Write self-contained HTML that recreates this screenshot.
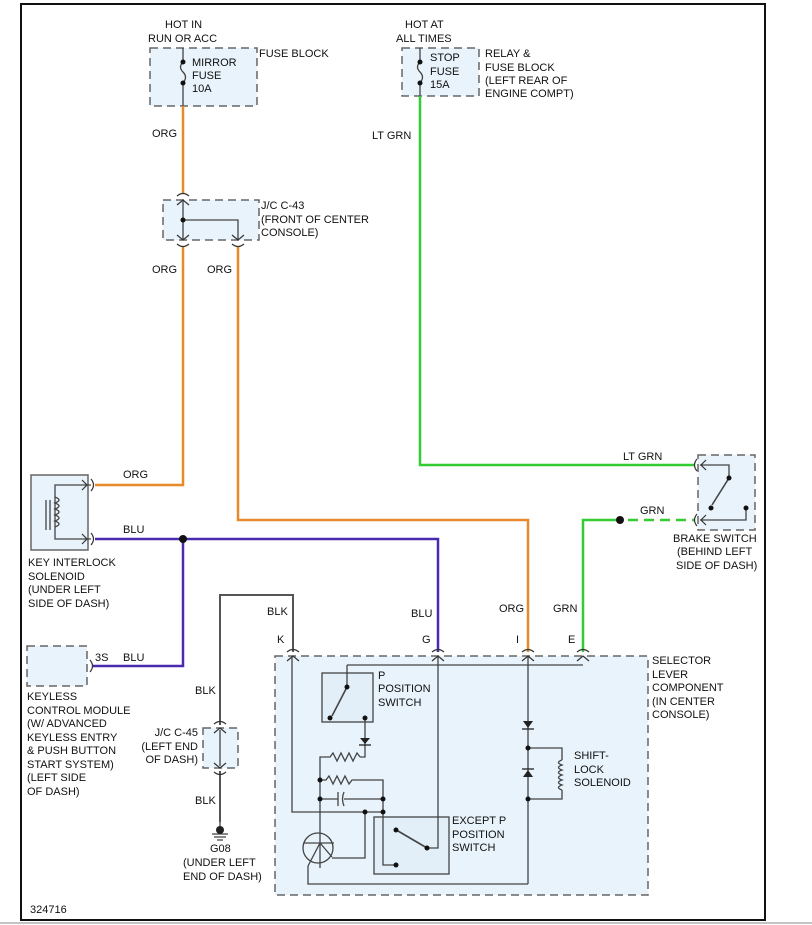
<!DOCTYPE html>
<html><head><meta charset="utf-8"><style>
body{margin:0;background:#fff}
svg{display:block}
text{font-family:"Liberation Sans",sans-serif;font-size:11px;fill:#111}
</style></head><body>
<svg width="812" height="925" viewBox="0 0 812 925">
<rect x="21" y="4" width="744" height="916" fill="none" stroke="#111" stroke-width="2"/>
<line x1="0" y1="923" x2="812" y2="923" stroke="#888" stroke-width="1"/>
<g fill="#e8f3fb" stroke="#666" stroke-width="1.5" stroke-dasharray="8,5">
<rect x="150" y="48" width="107" height="58"/>
<rect x="402" y="48" width="77" height="48"/>
<rect x="163" y="200" width="96" height="40"/>
<rect x="27" y="646" width="60" height="40"/>
<rect x="203" y="728" width="35" height="40"/>
<rect x="698" y="455" width="57" height="75"/>
<rect x="275" y="656" width="373" height="239"/>
</g>
<rect x="31" y="475" width="57" height="75" fill="#e8f3fb" stroke="#666" stroke-width="1.5"/>
<g fill="none" stroke="#444" stroke-width="1.3">
<rect x="322" y="673" width="51" height="49" fill="#e2eef8"/>
<rect x="374" y="817" width="75" height="57" fill="#e2eef8"/>
</g>
<!-- wires -->
<g fill="none" stroke-width="2.5">
<path d="M183 106V193M183 246V485H95" stroke="#e8892a"/>
<path d="M238 246V520H528V652" stroke="#e8892a"/>
<path d="M420 96V465H694" stroke="#33cc33"/>
<path d="M583 652V520H612" stroke="#33cc33"/>
<path d="M612 520H694" stroke="#33cc33" stroke-dasharray="10,6"/>
<path d="M95 539H438V652M183 539V666H92" stroke="#4a2ab0"/>
<path d="M293 652V595H220V725M220 771V822" stroke="#555" stroke-width="2"/>
</g>
<!-- thin lines -->
<g fill="none" stroke="#444" stroke-width="1.3">
<path d="M183 48V62M183 83V106"/>
<path d="M183 62q-5 5 0 10q5 5 0 11"/>
<path d="M420 48V62M420 83V96"/>
<path d="M420 62q-5 5 0 10q5 5 0 11"/>
<path d="M183 200V240M183 220H238V240"/>
<path d="M220 730V766"/>
<path d="M91 485H55V539H91"/>
<path d="M55 497q8 3 0 6q8 3 0 6q8 3 0 6q8 3 0 6q8 3 0 6"/>
<path d="M46 500V530M50 500V530"/>
<path d="M700 465H729V478M746 508V520H700"/>
<path d="M729 478L712 505" stroke-width="1.6"/>
<!-- selector internals -->
<path d="M292 656V812H383M347 665H583M347 665V687"/>
<path d="M347 687L332 716" stroke-width="1.6"/>
<path d="M365 718V757H360"/>
<path d="M360 757l-3-4l-4 8l-4-8l-4 8l-4-8l-4 8l-4-8l-3 4H320V868"/>
<path d="M320 780H326l3-4l4 8l4-8l4 8l4-8l4 8l3-4H383V812"/>
<path d="M320 799H338M344 799H383"/>
<path d="M338 792V806"/>
<path d="M344 792q-3 7 0 14"/>
<path d="M365 812V858H332"/>
<circle cx="318" cy="848" r="15"/>
<path d="M304 843H334M320 843L308 866M320 843L332 857"/>
<path d="M308 866V884H528"/>
<path d="M438 656V848H427"/>
<path d="M427 848L398 831" stroke-width="1.6"/>
<path d="M396 865H383V812"/>
<path d="M528 656V884"/>
<path d="M528 748H562V760M562 790V799H528"/>
<path d="M562 760q-7 2.5 0 5q-7 2.5 0 5q-7 2.5 0 5q-7 2.5 0 5q-7 2.5 0 5q-7 2.5 0 5"/>
<path d="M220 822V830M212 834H228M214 837H226M217 840H223"/>
</g>
<!-- diodes -->
<g fill="#222">
<path d="M360 738h10l-5 6z"/><path d="M359 745h12" stroke="#222" stroke-width="1.3"/>
<path d="M523 721h10l-5 7z"/><path d="M522 729h12" stroke="#222" stroke-width="1.3"/>
<path d="M523 777h10l-5-7z"/><path d="M522 769h12" stroke="#222" stroke-width="1.3"/>
<circle cx="220" cy="830" r="4"/>
</g>
<!-- dots -->
<g fill="#111">
<circle cx="183" cy="62" r="2.5"/><circle cx="183" cy="83" r="2.5"/>
<circle cx="420" cy="62" r="2.5"/><circle cx="420" cy="83" r="2.5"/>
<circle cx="183" cy="220" r="2.5"/>
<circle cx="183" cy="539" r="4"/><circle cx="620" cy="520" r="4"/>
<circle cx="729" cy="478" r="2.5"/><circle cx="711" cy="508" r="2.5"/><circle cx="746" cy="508" r="2.5"/>
<circle cx="347" cy="687" r="2.5"/><circle cx="330" cy="718" r="2.5"/><circle cx="365" cy="718" r="2.5"/>
<circle cx="320" cy="780" r="2.5"/><circle cx="320" cy="799" r="2.5"/><circle cx="383" cy="799" r="2.5"/>
<circle cx="365" cy="812" r="2.5"/><circle cx="383" cy="812" r="2.5"/>
<circle cx="396" cy="830" r="2.5"/><circle cx="427" cy="848" r="2.5"/><circle cx="396" cy="865" r="2.5"/>
<circle cx="528" cy="748" r="2.5"/><circle cx="528" cy="799" r="2.5"/>
</g>
<!-- connectors -->
<g fill="none" stroke="#333" stroke-width="1.2">
<path d="M177 196q6-5 12 0M177 205l6-5l6 5"/>
<path d="M177 244q6 5 12 0M177 235l6 5l6-5"/>
<path d="M232 244q6 5 12 0M232 235l6 5l6-5"/>
<path d="M91 479q5 6 0 12M82 480l5 5l-5 5"/>
<path d="M91 533q5 6 0 12M82 534l5 5l-5 5"/>
<path d="M90 660q5 6 0 12"/>
<path d="M697 459q-5 6 0 12M706 460l-5 5l5 5"/>
<path d="M697 514q-5 6 0 12M706 515l-5 5l5 5"/>
<path d="M214 724q6-5 12 0M214 733l6-5l6 5"/>
<path d="M214 772q6 5 12 0M214 763l6 5l6-5"/>
<path d="M287 652q6-5 12 0M287 661l6-5l6 5"/>
<path d="M432 652q6-5 12 0M432 661l6-5l6 5"/>
<path d="M522 652q6-5 12 0M522 661l6-5l6 5"/>
<path d="M577 652q6-5 12 0M577 661l6-5l6 5"/>
</g>
<!-- labels -->
<text x="165" y="28">HOT IN</text><text x="148" y="42">RUN OR ACC</text>
<text x="259" y="57">FUSE BLOCK</text>
<text x="192" y="66">MIRROR</text><text x="192" y="79">FUSE</text><text x="192" y="92">10A</text>
<text x="405" y="28">HOT AT</text><text x="396" y="42">ALL TIMES</text>
<text x="430" y="61">STOP</text><text x="430" y="75">FUSE</text><text x="430" y="88">15A</text>
<text x="485" y="57">RELAY &amp;</text><text x="485" y="71">FUSE BLOCK</text><text x="485" y="84">(LEFT REAR OF</text><text x="485" y="97">ENGINE COMPT)</text>
<text x="152" y="137">ORG</text><text x="372" y="139">LT GRN</text>
<text x="261" y="209">J/C C-43</text><text x="261" y="223">(FRONT OF CENTER</text><text x="261" y="236">CONSOLE)</text>
<text x="152" y="273">ORG</text><text x="207" y="273">ORG</text>
<text x="123" y="478">ORG</text><text x="123" y="533">BLU</text>
<text x="28" y="566">KEY INTERLOCK</text><text x="28" y="580">SOLENOID</text><text x="28" y="593">(UNDER LEFT</text><text x="28" y="607">SIDE OF DASH)</text>
<text x="95" y="661">3S</text><text x="123" y="661">BLU</text>
<text x="27" y="700">KEYLESS</text><text x="27" y="714">CONTROL MODULE</text><text x="27" y="727">(W/ ADVANCED</text><text x="27" y="741">KEYLESS ENTRY</text><text x="27" y="754">&amp; PUSH BUTTON</text><text x="27" y="768">START SYSTEM)</text><text x="27" y="781">(LEFT SIDE</text><text x="27" y="795">OF DASH)</text>
<text x="195" y="694">BLK</text><text x="195" y="804">BLK</text>
<text x="198" y="736" text-anchor="end">J/C C-45</text><text x="198" y="750" text-anchor="end">(LEFT END</text><text x="198" y="763" text-anchor="end">OF DASH)</text>
<text x="210" y="852">G08</text><text x="183" y="866">(UNDER LEFT</text><text x="183" y="880">END OF DASH)</text>
<text x="30" y="913">324716</text>
<text x="267" y="615">BLK</text><text x="411" y="617">BLU</text><text x="499" y="612">ORG</text><text x="553" y="612">GRN</text>
<text x="277" y="643">K</text><text x="422" y="643">G</text><text x="516" y="643">I</text><text x="568" y="643">E</text>
<text x="623" y="460">LT GRN</text><text x="640" y="514">GRN</text>
<text x="673" y="542">BRAKE SWITCH</text><text x="677" y="555">(BEHIND LEFT</text><text x="676" y="569">SIDE OF DASH)</text>
<text x="652" y="664">SELECTOR</text><text x="652" y="678">LEVER</text><text x="652" y="691">COMPONENT</text><text x="652" y="705">(IN CENTER</text><text x="652" y="718">CONSOLE)</text>
<text x="378" y="679">P</text><text x="378" y="692">POSITION</text><text x="378" y="706">SWITCH</text>
<text x="452" y="824">EXCEPT P</text><text x="452" y="838">POSITION</text><text x="452" y="851">SWITCH</text>
<text x="574" y="759">SHIFT-</text><text x="574" y="773">LOCK</text><text x="574" y="786">SOLENOID</text>
</svg>
</body></html>
